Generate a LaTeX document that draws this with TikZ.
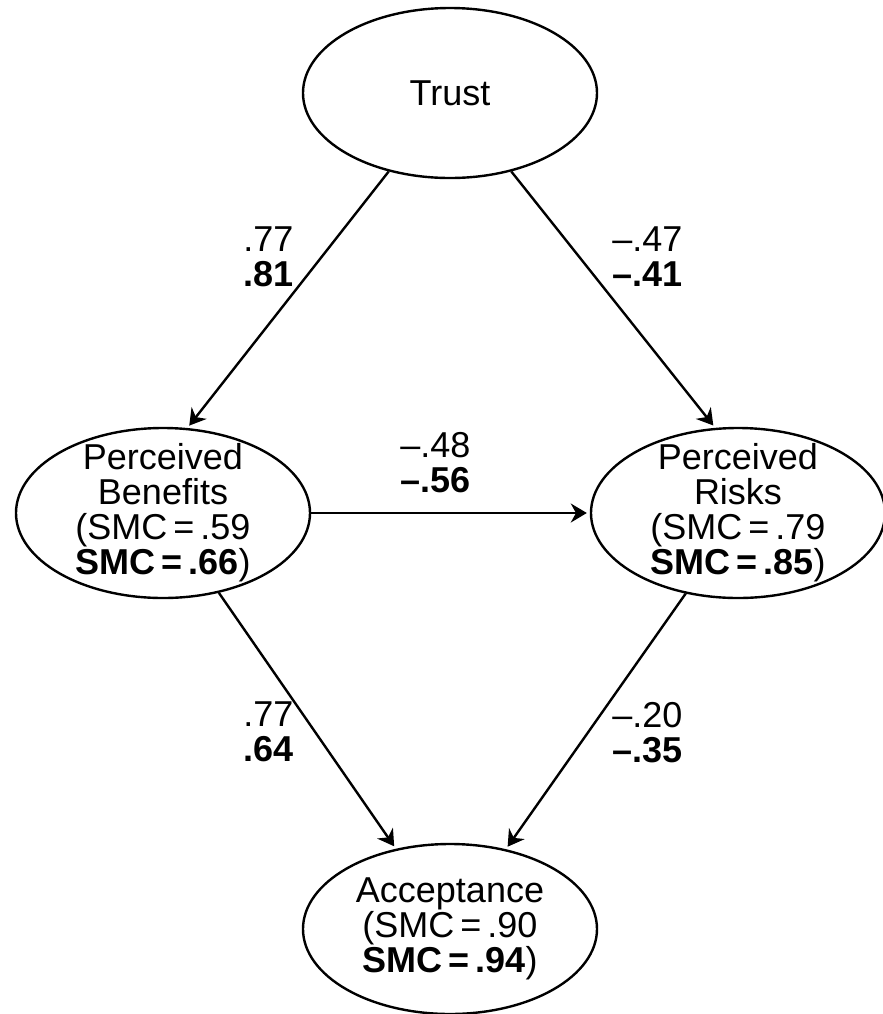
\documentclass[tikz,border=0pt]{standalone}
\usepackage{fontspec}
\setmainfont{Liberation Sans}
\usetikzlibrary{arrows.meta,shapes.geometric}

\begin{document}
\begin{tikzpicture}[x=0.5pt,y=-0.5pt,
  every node/.style={font=\fontsize{18pt}{17.5pt}\selectfont},
  latent/.style={draw,ellipse,line width=1.2pt,minimum width=147pt,minimum height=85pt,
    inner xsep=0pt,inner ysep=-8pt,align=center},
  coef/.style={inner sep=0pt,align=left,anchor=west},
  effect/.style={-{Stealth[length=8pt,width=9.5pt]},line width=1.2pt,shorten >=1.5pt}]
  \useasboundingbox (0,0) rectangle (883,1014);
  \node[latent] (Trust) at (450,93) {Trust};
  \node[latent] (Benefits) at (163,513) {Perceived\\Benefits\\(SMC\,=\,.59\\\textbf{SMC\,=\,.66})};
  \node[latent] (Risks) at (738,513) {Perceived\\Risks\\(SMC\,=\,.79\\\textbf{SMC\,=\,.85})};
  \node[latent] (Accept) at (450,929) {Acceptance\\(SMC\,=\,.90\\\textbf{SMC\,=\,.94})};
  \node[coef] (L-1) at (243,257) {.77\\\textbf{.81}};
  \node[coef] (L-2) at (612,257) {\textendash.47\\\textbf{\textendash.41}};
  \node[coef] (L-3) at (400,463) {\textendash.48\\\textbf{\textendash.56}};
  \node[coef] (L-4) at (243,732) {.77\\\textbf{.64}};
  \node[coef] (L-5) at (612,733) {\textendash.20\\\textbf{\textendash.35}};
  \draw[effect] (Trust.232) -- (Benefits.74);
  \draw[effect] (Trust.308) -- (Risks.105);
  \draw[effect] (Benefits.east) -- (Risks.west);
  \draw[effect] (Benefits.305) -- (Accept.124);
  \draw[effect] (Risks.237) -- (Accept.55);
\end{tikzpicture}
\end{document}
